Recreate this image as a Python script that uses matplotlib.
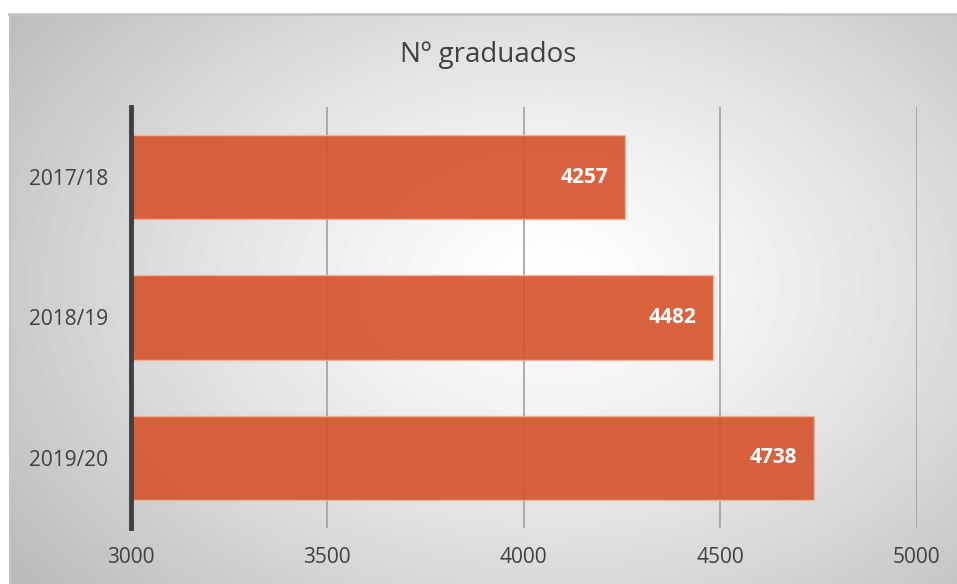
import matplotlib.pyplot as plt
import numpy as np

categories = ['2017/18', '2018/19', '2019/20']
graduados = [4257, 4482, 4738]
x_ticks = [3000, 3500, 4000, 4500, 5000]
title = 'Nº graduados'

plt.rcParams['font.family'] = ['Open Sans', 'DejaVu Sans']

fig = plt.figure(figsize=(9.57, 5.84), dpi=100)

# fondo con degradado radial (blanco en el centro, gris en los bordes)
bg = fig.add_axes([9 / 957, 0, 948 / 957, 1 - 14 / 584])
bg.set_axis_off()
yy, xx = np.mgrid[0:570, 0:948]
cx, cy = 540, 270
r = np.sqrt(((xx - cx) / 600.0) ** 2 + ((yy - cy) / 420.0) ** 2)
val = 1.0 - 0.23 * np.clip(r, 0, 1.2) ** 1.3
bg.imshow(val, cmap='gray', vmin=0, vmax=1, aspect='auto', extent=[0, 1, 0, 1])
fig.add_artist(plt.Line2D([9 / 957, 1], [1 - 14 / 584, 1 - 14 / 584],
                          color='#c4c4c4', linewidth=2, transform=fig.transFigure))
fig.add_artist(plt.Line2D([9.5 / 957, 9.5 / 957], [0, 1 - 14 / 584],
                          color='#c4c4c4', linewidth=1.5, transform=fig.transFigure))

ax = fig.add_axes([131 / 957, 1 - 528 / 584, (916.5 - 131) / 957, (528 - 107) / 584])
ax.patch.set_alpha(0)

y = np.arange(len(categories))
ax.barh(y, [g - x_ticks[0] for g in graduados], left=x_ticks[0], height=0.6,
        color='#d6532a', alpha=0.9, edgecolor='#f4b49a', linewidth=1, zorder=3)

for yi, g in zip(y, graduados):
    ax.annotate(str(g), xy=(g, yi), xytext=(-12, 0), textcoords='offset points',
                ha='right', va='center', color='white', fontsize=15,
                fontweight='bold', zorder=4)

ax.set_xlim(x_ticks[0], x_ticks[-1])
ax.set_ylim(len(categories) - 0.5, -0.5)
ax.set_xticks(x_ticks)
ax.set_yticks(y)
ax.set_yticklabels(categories)
ax.tick_params(axis='both', length=0, labelsize=15, labelcolor='#404040')
ax.tick_params(axis='x', pad=14)
ax.tick_params(axis='y', pad=16.5)

for xt in x_ticks[1:]:
    ax.axvline(xt, color='#a0a0a0', linewidth=1.2, zorder=1)

for s in ['top', 'right', 'bottom']:
    ax.spines[s].set_visible(False)
ax.spines['left'].set_color('#404040')
ax.spines['left'].set_linewidth(3.5)
ax.spines['left'].set_zorder(5)

fig.text(488 / 957, 1 - 55 / 584, title, ha='center', va='center', fontsize=20, color='#404040')

plt.savefig('out.png', dpi=100)
